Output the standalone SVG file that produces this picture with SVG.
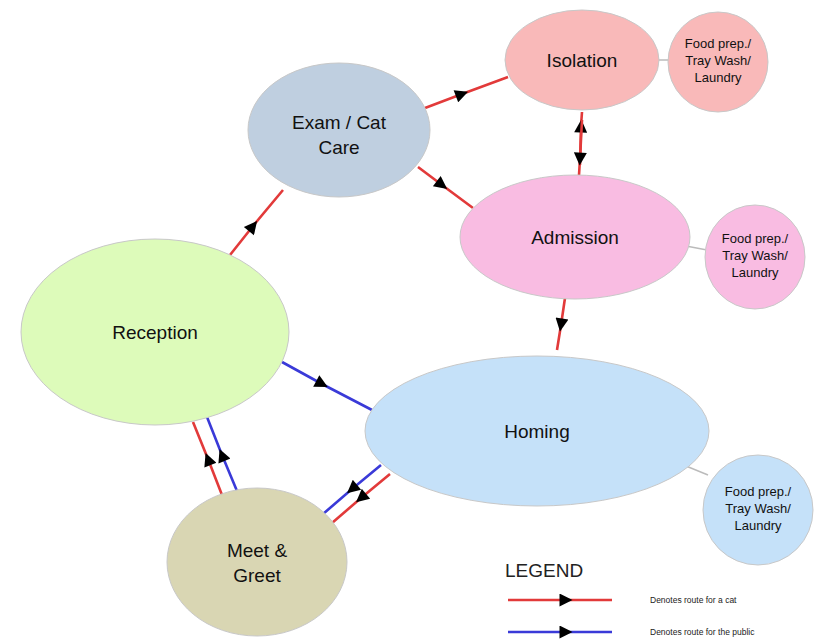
<svg xmlns="http://www.w3.org/2000/svg" width="836" height="639" viewBox="0 0 836 639">
<defs>
<marker id="ah" viewBox="0 0 10 10" refX="5" refY="5" markerWidth="6" markerHeight="5" markerUnits="strokeWidth" orient="auto">
<path d="M0,0 L10,5 L0,10 z" fill="#000"/>
</marker>
<style>
.node{stroke:#c8c8c8;stroke-width:1}
.lbl{font-family:"Liberation Sans",Arial,sans-serif;fill:#111;text-anchor:middle}
.big{font-size:19px}
.small{font-size:13px}
.cat{fill:none;stroke:#e23a3a;stroke-width:2.6;marker-mid:url(#ah)}
.pub{fill:none;stroke:#3a3ad8;stroke-width:2.6;marker-mid:url(#ah)}
.tie{fill:none;stroke:#bbbbbb;stroke-width:1.5}
</style>
</defs>
<rect width="836" height="639" fill="#fff"/>
<g id="connectors">
<polyline class="cat" points="425,108 462,94 508,77"/>
<polyline class="cat" points="580,165 581,126 582,112"/>
<polyline class="cat" points="582,120 580,159 579,175"/>
<polyline class="cat" points="418,167 442,185 473,208"/>
<polyline class="cat" points="230,255 253,226 283,190"/>
<polyline class="pub" points="282,362 322,384 372,410"/>
<polyline class="cat" points="222,495 208,459 193,422"/>
<polyline class="pub" points="237,491 222,455 207,417"/>
<polyline class="pub" points="381,465 352,489 323,514"/>
<polyline class="cat" points="390,474 361,498 332,523"/>
<polyline class="cat" points="565,298 561,325 557,350"/>
<line class="tie" x1="658" y1="60" x2="670" y2="60"/>
<line class="tie" x1="686" y1="246" x2="707" y2="250"/>
<line class="tie" x1="686" y1="466" x2="708" y2="475"/>
</g>
<g id="isolation">
<ellipse class="node" cx="582" cy="60" rx="77" ry="50" fill="#f9b9b9"/>
<text class="lbl big" x="582" y="67">Isolation</text>
</g>
<g id="foodprep1">
<ellipse class="node" cx="718" cy="62" rx="50" ry="50" fill="#f9b9b9"/>
<text class="lbl small" x="718" y="48">Food prep./</text>
<text class="lbl small" x="718" y="65">Tray Wash/</text>
<text class="lbl small" x="718" y="82">Laundry</text>
</g>
<g id="exam">
<ellipse class="node" cx="339" cy="130" rx="91" ry="67" fill="#bfcfe0"/>
<text class="lbl big" x="339" y="129">Exam / Cat</text>
<text class="lbl big" x="339" y="154">Care</text>
</g>
<g id="admission">
<ellipse class="node" cx="575" cy="237" rx="115" ry="62" fill="#f9bce2"/>
<text class="lbl big" x="575" y="244">Admission</text>
</g>
<g id="foodprep2">
<ellipse class="node" cx="755" cy="257" rx="50" ry="52" fill="#f9bce2"/>
<text class="lbl small" x="755" y="243">Food prep./</text>
<text class="lbl small" x="755" y="260">Tray Wash/</text>
<text class="lbl small" x="755" y="277">Laundry</text>
</g>
<g id="reception">
<ellipse class="node" cx="155" cy="332" rx="134" ry="93" fill="#ddfbba"/>
<text class="lbl big" x="155" y="339">Reception</text>
</g>
<g id="homing">
<ellipse class="node" cx="537" cy="431" rx="172" ry="75" fill="#c5e1f9"/>
<text class="lbl big" x="537" y="438">Homing</text>
</g>
<g id="foodprep3">
<ellipse class="node" cx="758" cy="510" rx="55" ry="55" fill="#c5e1f9"/>
<text class="lbl small" x="758" y="496">Food prep./</text>
<text class="lbl small" x="758" y="513">Tray Wash/</text>
<text class="lbl small" x="758" y="530">Laundry</text>
</g>
<g id="meetgreet">
<ellipse class="node" cx="257" cy="562" rx="90" ry="74" fill="#d9d6b3"/>
<text class="lbl big" x="257" y="557">Meet &amp;</text>
<text class="lbl big" x="257" y="582">Greet</text>
</g>
<g id="legend">
<text x="505" y="577" font-family="Liberation Sans,Arial,sans-serif" font-size="19" fill="#222">LEGEND</text>
<polyline class="cat" points="508,600 566,600 612,600"/>
<polyline class="pub" points="508,632 566,632 612,632"/>
<text x="650" y="603" font-family="Liberation Sans,Arial,sans-serif" font-size="8.5" fill="#222">Denotes route for a cat</text>
<text x="650" y="635" font-family="Liberation Sans,Arial,sans-serif" font-size="8.5" fill="#222">Denotes route for the public</text>
</g>
</svg>
